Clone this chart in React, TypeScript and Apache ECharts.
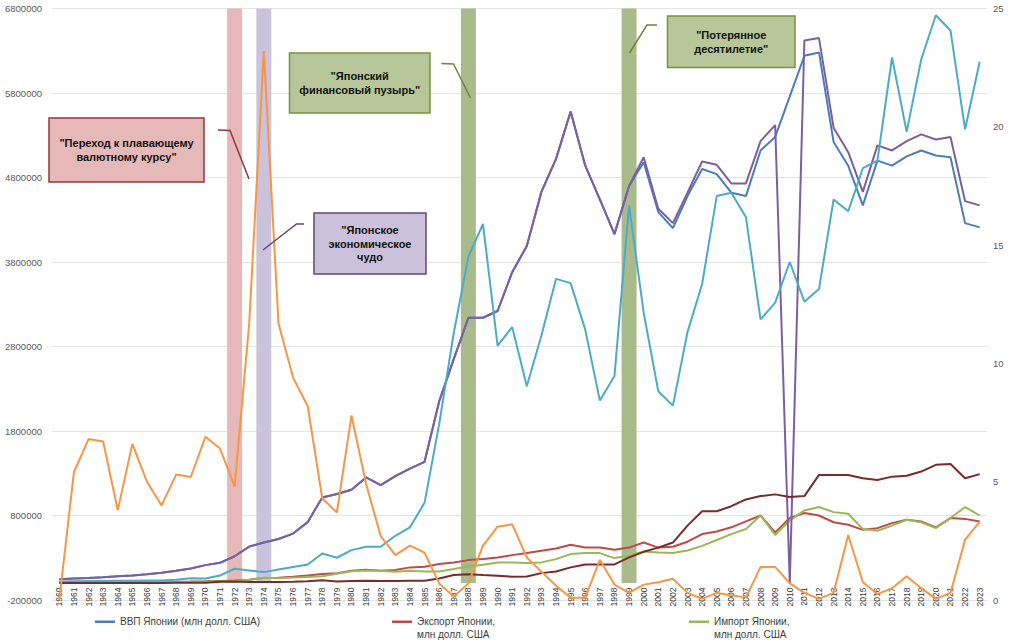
// Japan: GDP, trade, reserves, market cap, inflation 1960-2023
import * as echarts from 'echarts'
import { useEffect, useRef } from 'react'

const years = [
  '1960', '1961', '1962', '1963', '1964', '1965', '1966', '1967', '1968', '1969',
  '1970', '1971', '1972', '1973', '1974', '1975', '1976', '1977', '1978', '1979',
  '1980', '1981', '1982', '1983', '1984', '1985', '1986', '1987', '1988', '1989',
  '1990', '1991', '1992', '1993', '1994', '1995', '1996', '1997', '1998', '1999',
  '2000', '2001', '2002', '2003', '2004', '2005', '2006', '2007', '2008', '2009',
  '2010', '2011', '2012', '2013', '2014', '2015', '2016', '2017', '2018', '2019',
  '2020', '2021', '2022', '2023',
]

// млн долл. США
const gdp = [
  44307, 53509, 60723, 69498, 81749, 90950, 105628, 123782, 146601, 172204,
  212609, 240152, 318031, 432083, 479626, 521542, 586162, 721412, 1013612, 1055012,
  1105386, 1250000, 1160000, 1265000, 1355000, 1435000, 2150000, 2650000, 3140000, 3140000,
  3220000, 3680000, 3990000, 4630000, 5020000, 5580000, 4940000, 4540000, 4130000, 4700000,
  4980000, 4390000, 4200000, 4580000, 4900000, 4840000, 4620000, 4580000, 5120000, 5280000,
  5760000, 6240000, 6280000, 5220000, 4940000, 4470000, 5000000, 4940000, 5050000, 5120000,
  5060000, 5040000, 4260000, 4210000,
]

const exportsJp = [
  4900, 5300, 5900, 6500, 7900, 9600, 11100, 12000, 14600, 17600,
  21300, 26000, 30500, 40500, 61400, 63200, 74900, 89000, 109000, 117000,
  146000, 157000, 146000, 154000, 186000, 193000, 225000, 245000, 272000, 284000,
  304000, 331000, 355000, 383000, 410000, 453000, 422000, 422000, 394000, 420000,
  480000, 420000, 430000, 490000, 580000, 610000, 660000, 730000, 800000, 600000,
  770000, 830000, 800000, 720000, 690000, 630000, 650000, 710000, 750000, 730000,
  660000, 770000, 760000, 730000,
]

const importsJp = [
  4500, 5800, 5600, 6700, 7900, 8200, 9500, 11700, 13000, 15000,
  18900, 19700, 23500, 38300, 62100, 57900, 64800, 70800, 79900, 110700,
  140500, 150000, 146000, 134000, 146000, 138000, 138000, 166000, 197000, 217000,
  245000, 245000, 237000, 245000, 284000, 343000, 355000, 355000, 296000, 323000,
  375000, 363000, 355000, 385000, 440000, 510000, 580000, 640000, 800000, 570000,
  740000, 860000, 900000, 840000, 820000, 640000, 620000, 680000, 750000, 720000,
  650000, 770000, 900000, 800000,
]

const gdpAlt = [
  44307, 53509, 60723, 69498, 81749, 90950, 105628, 123782, 146601, 172204,
  212609, 240152, 318031, 432083, 479626, 521542, 586162, 721412, 1013612, 1055012,
  1105386, 1250000, 1160000, 1265000, 1355000, 1435000, 2150000, 2650000, 3140000, 3140000,
  3220000, 3680000, 3990000, 4630000, 5020000, 5580000, 4940000, 4540000, 4130000, 4700000,
  5040000, 4430000, 4260000, 4620000, 4990000, 4950000, 4730000, 4730000, 5230000, 5420000,
  0, 6420000, 6450000, 5390000, 5100000, 4630000, 5180000, 5120000, 5230000, 5310000,
  5250000, 5280000, 4520000, 4470000,
]

const marketCap = [
  20000, 22000, 24000, 26000, 27000, 28000, 30000, 32000, 40000, 58000,
  55000, 90000, 170000, 150000, 130000, 160000, 190000, 220000, 350000, 300000,
  390000, 430000, 430000, 560000, 660000, 950000, 1880000, 2960000, 3860000, 4250000,
  2810000, 3030000, 2330000, 2930000, 3600000, 3550000, 3000000, 2160000, 2450000, 4470000,
  3200000, 2270000, 2100000, 2970000, 3540000, 4580000, 4620000, 4330000, 3120000, 3320000,
  3800000, 3330000, 3480000, 4540000, 4400000, 4910000, 5000000, 6220000, 5340000, 6200000,
  6720000, 6540000, 5370000, 6170000,
]

const reserves = [
  2000, 1800, 2000, 2100, 2000, 2100, 2100, 2000, 2900, 3600,
  4800, 15200, 18400, 12200, 13500, 12800, 16600, 23000, 33000, 20300,
  25200, 29000, 24700, 25000, 26500, 27000, 55000, 95000, 106000, 95000,
  87000, 75000, 77000, 118000, 138000, 186000, 221000, 221000, 221000, 304000,
  370000, 420000, 480000, 680000, 850000, 850000, 910000, 990000, 1030000, 1050000,
  1020000, 1030000, 1280000, 1280000, 1280000, 1240000, 1220000, 1260000, 1270000, 1320000,
  1400000, 1410000, 1240000, 1290000,
]

// %, правая ось
const inflation = [
  0, 5.4, 6.8, 6.7, 3.8, 6.6, 5.0, 4.0, 5.3, 5.2,
  6.9, 6.4, 4.8, 11.7, 23.2, 11.7, 9.4, 8.2, 4.3, 3.7,
  7.8, 4.9, 2.7, 1.9, 2.3, 2.0, 0.7, 0.15, 0.7, 2.3,
  3.1, 3.2, 1.8, 1.2, 0.6, 0.1, 0.1, 1.7, 0.65, 0.3,
  0.65, 0.75, 0.9, 0.3, 0.05, 0.3, 0.2, 0.1, 1.4, 1.4,
  0.7, 0.3, 0.05, 0.3, 2.75, 0.75, 0.25, 0.5, 1.0, 0.5,
  0.05, 0.3, 2.55, 3.3,
]

const bandYears = ['1972', '1974', '1988', '1999']
const bandColors = ['#E6B9B8', '#CBC3DC', '#A9BB8B', '#A9BB8B']

const leftTicks = { min: -200000, max: 6800000, step: 1000000 }
const rightTicks = { min: 0, max: 25, step: 5 }

const FONT = '"Liberation Sans", Arial, sans-serif'

const App = () => {
  const chartRef = useRef<HTMLDivElement | null>(null)
  useEffect(() => {
    if (!chartRef.current) return
    const myChart = echarts.init(chartRef.current, null, { renderer: 'svg' })

    const bandData = years.map((y) => {
      const i = bandYears.indexOf(y)
      if (i < 0) return null
      return { value: leftTicks.max, itemStyle: { color: bandColors[i] } }
    })

    const line = (name: string, data: number[], color: string, yAxisIndex = 0) => ({
      name,
      type: 'line' as const,
      data,
      yAxisIndex,
      symbol: 'none',
      smooth: false,
      lineStyle: { color, width: 2 },
      itemStyle: { color },
    })

    const box = (x: number, y: number, w: number, h: number, fill: string, stroke: string, text: string) => [
      {
        type: 'rect',
        shape: { x, y, width: w, height: h },
        style: { fill, stroke, lineWidth: 1.5 },
        z: 100,
      },
      {
        type: 'text',
        x: x + w / 2,
        y: y + h / 2,
        style: {
          text,
          fill: '#111',
          font: `bold 11px ${FONT}`,
          textAlign: 'center',
          textVerticalAlign: 'middle',
          lineHeight: 13.5,
        },
        z: 101,
      },
    ]

    const callout = (points: number[][], stroke: string) => ({
      type: 'polyline',
      shape: { points },
      style: { stroke, lineWidth: 1.5, fill: null },
      z: 100,
    })

    const legendBase = {
      orient: 'horizontal' as const,
      padding: 0,
      icon: 'rect',
      itemWidth: 20,
      itemHeight: 2.5,
      itemGap: 0,
      selectedMode: false,
      textStyle: { fontFamily: FONT, fontSize: 10, color: '#404040', lineHeight: 12.5 },
    }

    // an empty first line keeps the icon level with the first line of a two-line name
    const twoLine = (name: string) => '\n' + name

    const option: any = {
      animation: false,
      grid: { left: 52, right: 24, top: 8.5, bottom: 43 },
      legend: [
        { ...legendBase, data: ['ВВП Японии (млн долл. США)'], left: 95, top: 615.5 },
        {
          ...legendBase,
          data: ['Экспорт Японии,\nмлн долл. США'],
          left: 392,
          top: 603,
          formatter: twoLine,
        },
        {
          ...legendBase,
          data: ['Импорт Японии,\nмлн долл. США'],
          left: 689,
          top: 603,
          formatter: twoLine,
        },
      ],
      xAxis: {
        type: 'category',
        data: years,
        boundaryGap: true,
        // the category axis crosses the left axis at 0 (16.5px above the bottom)
        offset: -16.5,
        axisLine: { show: false, onZero: false },
        axisTick: { show: false },
        axisLabel: {
          interval: 0,
          rotate: 90,
          margin: 4,
          fontFamily: FONT,
          fontSize: 8.5,
          color: '#3a3a3a',
        },
        splitLine: { show: false },
      },
      yAxis: [
        {
          type: 'value',
          min: leftTicks.min,
          max: leftTicks.max,
          interval: leftTicks.step,
          axisLine: { show: false },
          axisTick: { show: false },
          axisLabel: {
            margin: 10,
            fontFamily: FONT,
            fontSize: 9.5,
            color: '#595959',
            formatter: (v: number) => String(v),
          },
          splitLine: { lineStyle: { color: '#E4E4E4', width: 1 } },
        },
        {
          type: 'value',
          min: rightTicks.min,
          max: rightTicks.max,
          interval: rightTicks.step,
          position: 'right',
          axisLine: { show: false },
          axisTick: { show: false },
          axisLabel: { margin: 6, fontFamily: FONT, fontSize: 9.5, color: '#595959' },
          splitLine: { show: false },
        },
      ],
      series: [
        {
          name: 'Периоды',
          type: 'bar',
          data: bandData,
          barWidth: 15,
          yAxisIndex: 0,
          silent: true,
        },
        line('ВВП Японии (млн долл. США)', gdp, '#4A7EBB'),
        line('Экспорт Японии,\nмлн долл. США', exportsJp, '#BE4B48'),
        line('Импорт Японии,\nмлн долл. США', importsJp, '#98B954'),
        line('ВВП (2)', gdpAlt, '#7D5FA0'),
        line('Капитализация рынка', marketCap, '#4BACC6'),
        line('Валютные резервы', reserves, '#772C2A'),
        line('Инфляция, %', inflation, '#F79646', 1),
      ],
      graphic: [
        ...box(49, 118, 155, 64, '#E6B9B8', '#953735', '"Переход к плавающему\nвалютному курсу"'),
        callout([[218, 130], [230, 130.5], [249, 179]], '#8B3A3A'),
        ...box(314, 213, 112, 61, '#CCC1DA', '#5F497A', '"Японское\nэкономическое\nчудо'),
        callout([[304, 224], [296.5, 224], [263, 250]], '#5F497A'),
        ...box(289.5, 53, 140.5, 60, '#B8C799', '#77933C', '"Японский\nфинансовый пузырь"'),
        callout([[441.5, 63.5], [453.5, 64], [470.5, 98]], '#6F8440'),
        ...box(667.5, 16, 127.5, 51.5, '#B8C799', '#77933C', '"Потерянное\nдесятилетие"'),
        callout([[657, 25], [647, 25], [629.5, 53]], '#6F8440'),
      ],
    }

    myChart.setOption(option)
    return () => {
      myChart.dispose()
    }
  }, [])
  return (
    <div
      ref={chartRef}
      style={{ position: 'fixed', left: 0, top: 0, width: '1011px', height: '643px', background: '#fff' }}
    ></div>
  )
}

export default App
